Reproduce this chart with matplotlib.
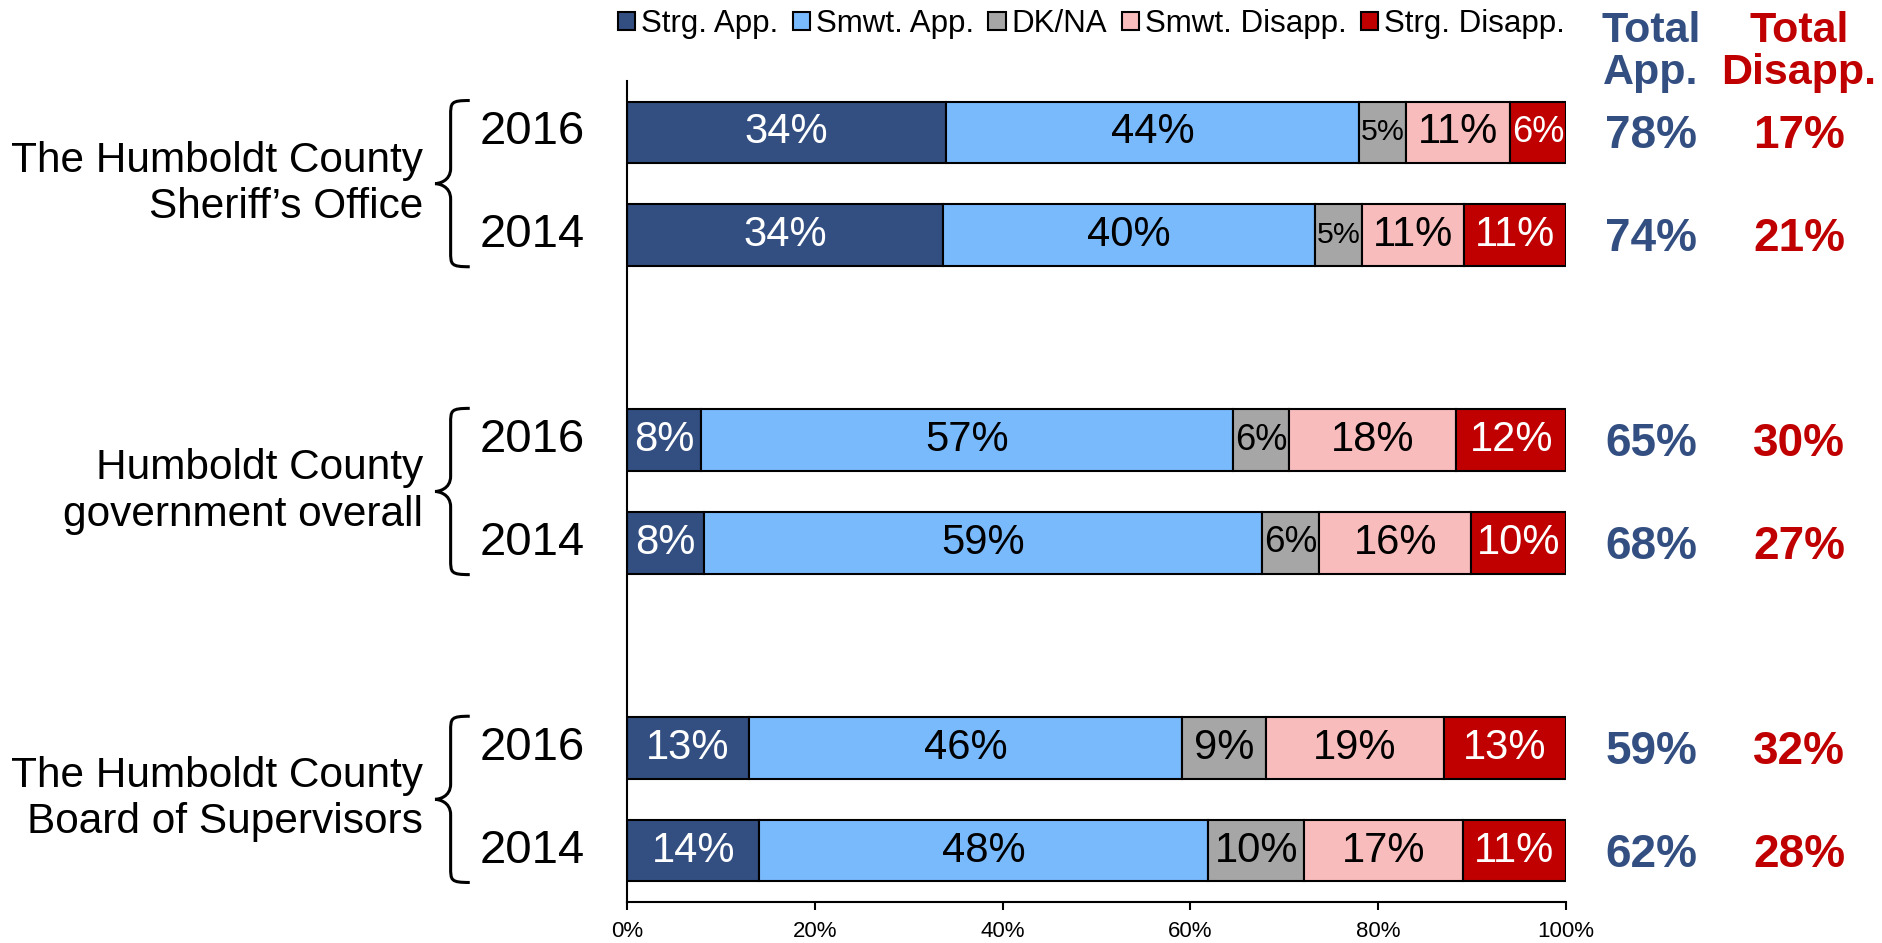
import numpy as np
import matplotlib.pyplot as plt
from matplotlib.patches import Patch, PathPatch
from matplotlib.path import Path
import matplotlib.transforms as mtransforms

plt.rcParams['font.family'] = ['Liberation Sans', 'DejaVu Sans']

# ---------------------------------------------------------------------------
# data (top to bottom)
# ---------------------------------------------------------------------------
groups = ["The Humboldt County\nSheriff\u2019s Office",
          "Humboldt County\ngovernment overall",
          "The Humboldt County\nBoard of Supervisors"]
years = ["2016", "2014", "2016", "2014", "2016", "2014"]
series = ["Strg. App.", "Smwt. App.", "DK/NA", "Smwt. Disapp.", "Strg. Disapp."]

strg_app = [34.0, 33.6, 7.9, 8.2, 13.0, 14.1]
smwt_app = [44.0, 39.7, 56.6, 59.4, 46.1, 47.8]
dk_na = [5.0, 5.0, 6.0, 6.1, 8.9, 10.2]
smwt_dis = [11.0, 10.8, 17.8, 16.2, 19.0, 16.9]
strg_dis = [6.0, 10.9, 11.7, 10.1, 13.0, 11.0]

total_app = [78, 74, 65, 68, 59, 62]
total_dis = [17, 21, 30, 27, 32, 28]

colors = ["#334F82", "#79BAFD", "#A6A6A6", "#F9BCBC", "#C00000"]
text_colors = ["white", "black", "black", "black", "white"]
APP_C = "#334F82"
DIS_C = "#C00000"

pos = np.array([0, 1, 3, 4, 6, 7])
group_centers = [0.5, 3.5, 6.5]

fig = plt.figure(figsize=(18.83, 9.43), dpi=100)
ax = fig.add_axes([0.333, 0.0435, 0.4987, 0.8706])

vals = np.array([strg_app, smwt_app, dk_na, smwt_dis, strg_dis])
left = np.zeros(len(pos))
ax_px = 0.4987 * 1883
for k in range(len(series)):
    ax.barh(pos, vals[k], left=left, height=0.6, color=colors[k],
            edgecolor="black", linewidth=1.5, label=series[k])
    for i, v in enumerate(vals[k]):
        lab = f"{round(v):d}%"
        seg_px = v / 100 * ax_px
        em = (0.556 * (len(lab) - 1) + 0.889)
        fs_px = min(41.7, 0.93 * seg_px / em)
        ax.text(left[i] + v / 2, pos[i], lab, ha="center", va="center",
                color=text_colors[k], fontsize=fs_px * 0.72)
    left += vals[k]

ax.set_xlim(0, 100)
ax.set_ylim(7.5, -0.5)
ax.set_yticks([])
ax.set_xticks(np.arange(0, 101, 20))
ax.set_xticklabels([f"{t}%" for t in range(0, 101, 20)], fontsize=16)
ax.tick_params(axis="x", direction="out", length=6, width=1.5, pad=8)
for s in ["top", "right"]:
    ax.spines[s].set_visible(False)
ax.spines["left"].set_linewidth(1.5)
ax.spines["bottom"].set_linewidth(1.5)

# year labels and totals
trans = mtransforms.blended_transform_factory(ax.transAxes, ax.transData)
for i, p in enumerate(pos):
    ax.text(-0.045, p, years[i], transform=trans, ha="right", va="center",
            fontsize=34)
    ax.text(1.0905, p + 0.04, f"{total_app[i]}%", transform=trans,
            ha="center", va="center", fontsize=33, fontweight="bold",
            color=APP_C)
    ax.text(1.248, p + 0.04, f"{total_dis[i]}%", transform=trans,
            ha="center", va="center", fontsize=33, fontweight="bold",
            color=DIS_C)

# group labels with curly braces
x_tip, x_arm = -0.2045, -0.1675
x_mid = x_tip + 0.45 * (x_arm - x_tip)
h = 0.81
for g, yc in zip(groups, group_centers):
    ax.text(-0.217, yc, g, transform=trans, ha="right", va="center",
            fontsize=30.5, linespacing=1.2)
    verts = [
        (x_arm, yc - h),
        (x_mid, yc - h), (x_mid, yc - h + 0.02), (x_mid, yc - h + 0.15),
        (x_mid, yc - 0.15),
        (x_mid, yc - 0.02), (x_tip + 0.2 * (x_mid - x_tip), yc), (x_tip, yc),
        (x_tip + 0.2 * (x_mid - x_tip), yc), (x_mid, yc + 0.02), (x_mid, yc + 0.15),
        (x_mid, yc + h - 0.15),
        (x_mid, yc + h - 0.02), (x_mid, yc + h), (x_arm, yc + h),
    ]
    codes = [Path.MOVETO,
             Path.CURVE4, Path.CURVE4, Path.CURVE4,
             Path.LINETO,
             Path.CURVE4, Path.CURVE4, Path.CURVE4,
             Path.CURVE4, Path.CURVE4, Path.CURVE4,
             Path.LINETO,
             Path.CURVE4, Path.CURVE4, Path.CURVE4]
    ax.add_patch(PathPatch(Path(verts, codes), transform=trans, fill=False,
                           lw=2.2, edgecolor="black", clip_on=False))

# column headers
fig.text(1651 / 1883, 0.945, "Total\nApp.", ha="center", va="center",
         fontsize=31, fontweight="bold", color=APP_C, linespacing=1.05)
fig.text(1799 / 1883, 0.945, "Total\nDisapp.", ha="center", va="center",
         fontsize=31, fontweight="bold", color=DIS_C, linespacing=1.05)

handles = [Patch(facecolor=c, edgecolor="black", linewidth=1.5) for c in colors]
fig.legend(handles, series, loc="center", bbox_to_anchor=(0.5797, 0.9745),
           ncol=5, frameon=False, fontsize=22.5, handlelength=0.55,
           handleheight=0.55, handletextpad=0.2, columnspacing=0.45,
           borderpad=0)

fig.savefig("out.png", dpi=100)
